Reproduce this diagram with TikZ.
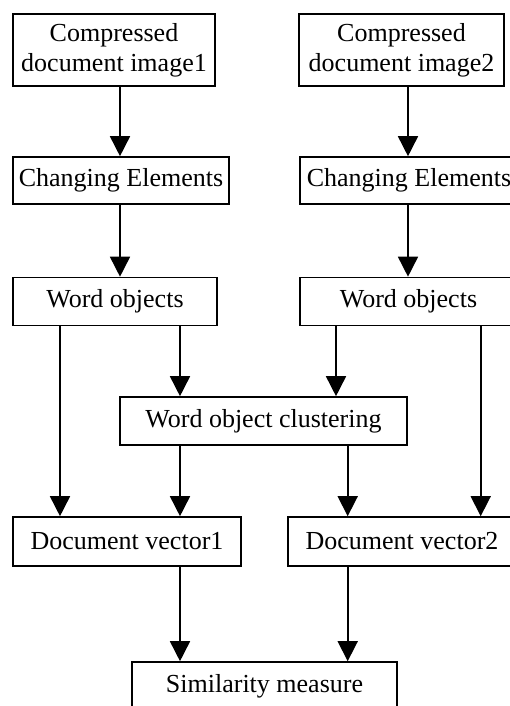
\documentclass[tikz,border=0pt]{standalone}
\usepackage{fontspec}
\setmainfont{Liberation Serif}
\usetikzlibrary{arrows.meta}
\begin{document}
\begin{tikzpicture}[x=1pt,y=-1pt,
  box/.style={draw, line width=1.6pt, inner sep=0pt, align=center,
    font=\fontsize{26}{30}\selectfont},
  arr/.style={line width=1.6pt, -{Triangle[width=20pt,length=20pt]}}]
\useasboundingbox (0,0) rectangle (510,706);
% boxes
\node[box, minimum width=202pt, minimum height=72pt] (b1) at (114,50) {Compressed\\document image1};
\node[box, minimum width=205pt, minimum height=72pt] (b2) at (401.5,50) {Compressed\\document image2};
\node[box, minimum width=216pt, minimum height=47pt] (c1) at (121,180.5) {Changing Elements};
\node[box, minimum width=218pt, minimum height=47pt] (c2) at (409,180.5) {Changing Elements};
\node[box, minimum width=204pt, minimum height=48pt] (w1) at (115,301.5) {Word objects};
\node[box, minimum width=217pt, minimum height=48pt] (w2) at (408.5,301.5) {Word objects};
\node[box, minimum width=287pt, minimum height=48pt] (cl) at (263.5,421) {Word object clustering};
\node[box, minimum width=228pt, minimum height=49pt] (d1) at (127,541.5) {Document vector1};
\node[box, minimum width=228pt, minimum height=49pt] (d2) at (402,541.5) {Document vector2};
\node[box, minimum width=265pt, minimum height=48pt] (sm) at (264.5,686) {Similarity measure};
% arrow columns
\coordinate (xa) at (60,0);
\coordinate (xb) at (120,0);
\coordinate (xc) at (180,0);
\coordinate (xd) at (336,0);
\coordinate (xe) at (347.7,0);
\coordinate (xf) at (408,0);
\coordinate (xg) at (480.7,0);
% connectors
\draw[arr] (b1.south -| xb) -- (c1.north -| xb);
\draw[arr] (b2.south -| xf) -- (c2.north -| xf);
\draw[arr] (c1.south -| xb) -- (w1.north -| xb);
\draw[arr] (c2.south -| xf) -- (w2.north -| xf);
\draw[arr] (w1.south -| xa) -- (d1.north -| xa);
\draw[arr] (w1.south -| xc) -- (cl.north -| xc);
\draw[arr] (w2.south -| xd) -- (cl.north -| xd);
\draw[arr] (w2.south -| xg) -- (d2.north -| xg);
\draw[arr] (cl.south -| xc) -- (d1.north -| xc);
\draw[arr] (cl.south -| xe) -- (d2.north -| xe);
\draw[arr] (d1.south -| xc) -- (sm.north -| xc);
\draw[arr] (d2.south -| xe) -- (sm.north -| xe);
\end{tikzpicture}
\end{document}
